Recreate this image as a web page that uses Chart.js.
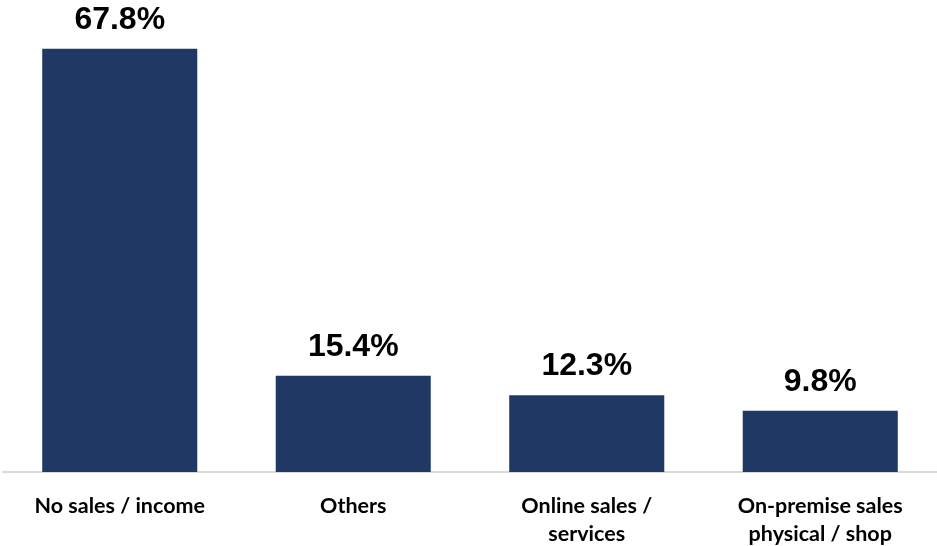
<!DOCTYPE html>
<html>
<head>
<meta charset="utf-8">
<script src="https://cdn.jsdelivr.net/npm/chart.js@4/dist/chart.umd.min.js"></script>
<style>
  html, body { margin: 0; padding: 0; background: #ffffff; }
  #wrap { width: 937px; height: 546px; position: relative; }
</style>
</head>
<body>
<div id="wrap"><canvas id="chart"></canvas></div>
<script>
// Share of respondents by main source of business activity
const categories = [
  ['No sales / income'],
  ['Others'],
  ['Online sales /', 'services'],
  ['On-premise sales', 'physical / shop']
];
const shares = [67.8, 15.4, 12.3, 9.8];
const valueLabels = ['67.8%', '15.4%', '12.3%', '9.8%'];

// Writes each bar's percentage above it
const valueLabelPlugin = {
  id: 'valueLabels',
  afterDatasetsDraw(chart) {
    const { ctx } = chart;
    const meta = chart.getDatasetMeta(0);
    ctx.save();
    ctx.font = 'bold 32px "Liberation Sans", Arial, sans-serif';
    ctx.fillStyle = '#000000';
    ctx.textAlign = 'center';
    ctx.textBaseline = 'alphabetic';
    meta.data.forEach((bar, i) => {
      ctx.fillText(valueLabels[i], bar.x, bar.y - 20);
    });
    ctx.restore();
  }
};

new Chart(document.getElementById('chart'), {
  type: 'bar',
  data: {
    labels: categories,
    datasets: [{
      data: shares,
      backgroundColor: '#1f3864',
      borderWidth: 0,
      barPercentage: 0.664,
      categoryPercentage: 1.0
    }]
  },
  options: {
    responsive: true,
    maintainAspectRatio: false,
    animation: false,
    layout: { padding: { top: 35, left: 3, right: 0, bottom: 0 } },
    plugins: {
      legend: { display: false },
      tooltip: { enabled: false }
    },
    scales: {
      y: {
        display: false,
        min: 0,
        max: 70
      },
      x: {
        grid: { display: false },
        border: { display: true, color: '#d9d9d9', width: 2 },
        ticks: {
          color: '#000000',
          padding: 12,
          maxRotation: 0,
          autoSkip: false,
          font: { family: 'Lato, "Open Sans", sans-serif', weight: 'bold', size: 21.5, lineHeight: 1.3 }
        },
        afterFit(scale) { scale.height = 74; }
      }
    }
  },
  plugins: [valueLabelPlugin]
});
</script>
</body>
</html>
